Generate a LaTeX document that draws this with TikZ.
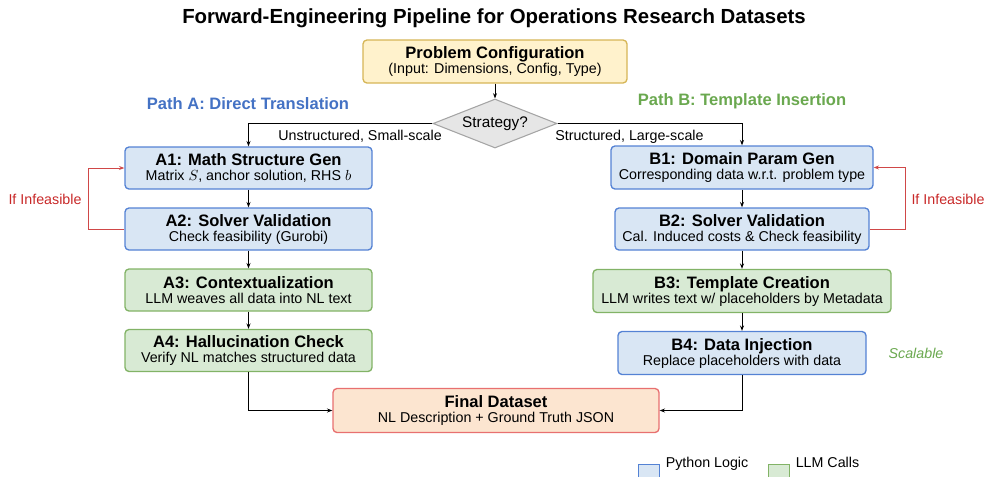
\documentclass[tikz,border=0pt]{standalone}
\usepackage{fontspec}
\setmainfont{Liberation Sans}
\usetikzlibrary{arrows.meta, shapes.geometric}

\definecolor{pyfill}{RGB}{217,230,244}
\definecolor{pyline}{RGB}{84,130,212}
\definecolor{llmfill}{RGB}{216,234,212}
\definecolor{llmline}{HTML}{82B366}
\definecolor{cfgfill}{HTML}{FFF2CC}
\definecolor{cfgline}{HTML}{D6B656}
\definecolor{outfill}{RGB}{252,229,208}
\definecolor{outline}{RGB}{232,112,112}
\definecolor{decfill}{RGB}{230,230,230}
\definecolor{decline}{RGB}{165,165,165}
\definecolor{failred}{RGB}{200,40,40}
\definecolor{pathblue}{RGB}{68,114,196}
\definecolor{pathgreen}{RGB}{106,168,79}

\newcommand{\hdfont}{\fontsize{12.4}{14}\selectfont\bfseries}
\newcommand{\txtfont}{\fontsize{10.7}{11.25}\selectfont}

\tikzset{
  stage/.style={rectangle, rounded corners=3pt, line width=1pt, align=center,
    minimum height=31.5pt, inner sep=2pt, font=\txtfont},
  pybox/.style={stage, fill=pyfill, draw=pyline},
  llmbox/.style={stage, fill=llmfill, draw=llmline},
  flow/.style={-{Stealth[length=4pt,width=3pt]}, line width=0.7pt},
  fail/.style={flow, draw=failred!85},
  swatch/.style={rectangle, line width=0.8pt, minimum width=15.75pt, minimum height=15.75pt, inner sep=0pt}
}

\begin{document}
\begin{tikzpicture}[x=0.75pt, y=-0.75pt]
% Page frame, 985 x 476 units
\useasboundingbox (0,0) rectangle (985,476);
\clip (0,0) rectangle (985,476);
% Title
\node[font=\fontsize{15.3}{17}\selectfont\bfseries, anchor=base] (title) at (494,23.5)
  {Forward-Engineering Pipeline for Operations Research Datasets};
% Input and strategy choice
\node[stage, fill=cfgfill, draw=cfgline, minimum width=198pt, minimum height=32.25pt] (config) at (495,61.5)
  {{\hdfont Problem Configuration}\\(Input: Dimensions, Config, Type)};
\node[diamond, aspect=2.58, minimum width=93pt, minimum height=36.75pt, inner sep=0pt,
  fill=decfill, draw=decline, line width=0.8pt, font=\fontsize{11.5}{12}\selectfont] (strategy) at (495,123.5) {Strategy?};
\draw[flow] (config) -- (strategy);
% Path headings
\node[font=\hdfont, text=pathblue] (pathA) at (248,104) {Path A: Direct Translation};
\node[font=\hdfont, text=pathgreen] (pathB) at (742,101) {Path B: Template Insertion};
% Path A stages
\node[pybox, minimum width=185.25pt] (A1) at (248.5,168)
  {{\hdfont A1: Math Structure Gen}\\Matrix $S$, anchor solution, RHS $b$};
\node[pybox, minimum width=185.25pt] (A2) at (248.5,229)
  {{\hdfont A2: Solver Validation}\\Check feasibility (Gurobi)};
\node[llmbox, minimum width=185.25pt] (A3) at (248.5,290)
  {{\hdfont A3: Contextualization}\\LLM weaves all data into NL text};
\node[llmbox, minimum width=185.25pt] (A4) at (248.5,350.5)
  {{\hdfont A4: Hallucination Check}\\Verify NL matches structured data};
% Path B stages
\node[pybox, minimum width=196.5pt, minimum height=32.25pt] (B1) at (742,167.5)
  {{\hdfont B1: Domain Param Gen}\\Corresponding data w.r.t. problem type};
\node[pybox, minimum width=190.5pt] (B2) at (742,229)
  {{\hdfont B2: Solver Validation}\\Cal. Induced costs \& Check feasibility};
\node[llmbox, minimum width=223.5pt, minimum height=32.25pt] (B3) at (742,291)
  {{\hdfont B3: Template Creation}\\LLM writes text w/ placeholders by Metadata};
\node[pybox, minimum width=186pt, minimum height=32.25pt] (B4) at (742,353)
  {{\hdfont B4: Data Injection}\\Replace placeholders with data};
% Output
\node[stage, fill=outfill, draw=outline, minimum width=244.5pt, minimum height=33pt] (final) at (496,410.5)
  {{\hdfont Final Dataset}\\NL Description + Ground Truth JSON};
% Branches from the decision
\draw[flow] (strategy.west) -| (A1.north);
\draw[flow] (strategy.east) -| (B1.north);
\node[font=\txtfont, anchor=base east, inner sep=0pt] (small) at (442,140.5) {Unstructured, Small-scale};
\node[font=\txtfont, anchor=base west, inner sep=0pt] (large) at (555,140.5) {Structured, Large-scale};
% Straight flow down each path
\draw[flow] (A1) -- (A2);
\draw[flow] (A2) -- (A3);
\draw[flow] (A3) -- (A4);
\draw[flow] (B1) -- (B2);
\draw[flow] (B2) -- (B3);
\draw[flow] (B3) -- (B4);
\draw[flow] (A4.south) |- (final.west);
\draw[flow] (B4.south) |- (final.east);
% Loops back on failed validation
\draw[fail] (A2.west) -- ++(-36,0) |- (A1.west);
\draw[fail] (B2.east) -- ++(36,0) |- (B1.east);
\node[font=\txtfont, text=failred] (infA) at (45,199) {If Infeasible};
\node[font=\txtfont, text=failred] (infB) at (948,199) {If Infeasible};
\node[font=\txtfont\itshape, text=pathgreen] (scal) at (916,353) {Scalable};
% Legend
\node[swatch, fill=pyfill, draw=pyline, anchor=north west] (keyPy) at (637.5,463.5) {};
\node[font=\txtfont, anchor=base west, inner sep=0pt] (keyPyText) at (665.5,467) {Python Logic};
\node[swatch, fill=llmfill, draw=llmline, anchor=north west] (keyLLM) at (767.5,463.5) {};
\node[font=\txtfont, anchor=base west, inner sep=0pt] (keyLLMText) at (795.5,467) {LLM Calls};
\end{tikzpicture}
\end{document}
